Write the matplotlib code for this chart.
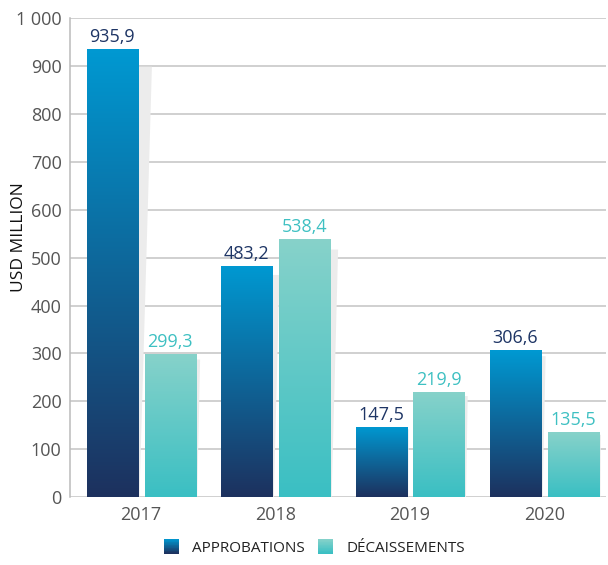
"""Approbations vs décaissements, 2017-2020."""

import matplotlib.pyplot as plt
import numpy as np
from matplotlib.colors import to_rgb
from matplotlib.legend_handler import HandlerBase
from matplotlib.patches import Polygon, Rectangle

years = ["2017", "2018", "2019", "2020"]
approbations = [935.9, 483.2, 147.5, 306.6]
decaissements = [299.3, 538.4, 219.9, 135.5]
series_names = ["APPROBATIONS", "DÉCAISSEMENTS"]

BLUE_TOP, BLUE_BOT = "#0099d2", "#1d315e"
TEAL_TOP, TEAL_BOT = "#87d2ca", "#3abfc3"
BLUE_TXT, TEAL_TXT = "#1e3565", "#3ec0c2"

plt.rcParams["font.family"] = ["Open Sans", "DejaVu Sans"]


def gradient(top, bottom, n=256):
    """column of colours from top to bottom"""
    t = np.linspace(0, 1, n)[:, None]
    return (1 - t) * np.array(to_rgb(top)) + t * np.array(to_rgb(bottom))


class GradientHandler(HandlerBase):
    """legend swatch made of stacked thin strips"""

    def __init__(self, top, bottom):
        super().__init__()
        self.cols = gradient(top, bottom, 20)

    def create_artists(self, legend, orig_handle, xdescent, ydescent,
                       width, height, fontsize, trans):
        side = height * 1.4
        x0 = -xdescent + (width - side) / 2
        y0 = -ydescent - (side - height) / 2
        n = len(self.cols)
        out = []
        for i, c in enumerate(self.cols):
            y = y0 + side * (n - 1 - i) / n
            out.append(Rectangle((x0, y), side, side / n + 0.2, facecolor=c,
                                 edgecolor="none", transform=trans))
        return out


fig = plt.figure(figsize=(6.08, 5.65), dpi=100)
ax = fig.add_axes([0.115, 0.12, 0.882, 0.848])

x = np.arange(len(years))
width = 0.38
off = 0.215

series = [(approbations, -off, BLUE_TOP, BLUE_BOT, BLUE_TXT),
          (decaissements, off, TEAL_TOP, TEAL_BOT, TEAL_TXT)]

handles = []
for vals, dx, top, bot, txt in series:
    bars = ax.bar(x + dx, vals, width, facecolor="none", edgecolor="none",
                  zorder=3)
    handles.append(bars)
    img = gradient(top, bot)[:, None, :]
    for rect, v in zip(bars, vals):
        x0 = rect.get_x()
        x1 = x0 + rect.get_width()
        # soft shadow to the right of the bar
        sw = 0.105 * v / 936
        ax.add_patch(Polygon([(x1, v * 0.96), (x1 + sw, v * 0.96),
                              (x1 + 0.012, 0), (x1, 0)], closed=True,
                             facecolor="#ececec", edgecolor="none", zorder=2))
        im = ax.imshow(img, extent=[x0, x1, 0, v], aspect="auto",
                       origin="upper", zorder=3)
        im.set_clip_path(rect)
        ax.text(rect.get_x() + rect.get_width() / 2, v + 6, f"{v:.1f}".replace(".", ","),
                ha="center", va="bottom", color=txt, fontsize=13)

ax.set_xlim(-0.53, 3.46)
ax.set_ylim(0, 1000)
ax.set_yticks(range(0, 1001, 100))
ax.set_yticklabels([f"{t:,}".replace(",", " ") for t in range(0, 1001, 100)])
ax.set_xticks(x)
ax.set_xticklabels(years)
ax.tick_params(axis="both", colors="#555555", labelsize=13, length=0)
ax.tick_params(axis="y", pad=6)
ax.tick_params(axis="x", pad=6)
ax.yaxis.grid(True, color="#c4c4c4", linewidth=1.1, zorder=1)
ax.set_axisbelow(True)
for s in ["top", "right", "bottom"]:
    ax.spines[s].set_visible(False)
ax.spines["left"].set_color("#bbbbbb")
ax.spines["left"].set_linewidth(1.1)
ax.set_ylabel("USD MILLION", fontsize=12.5, color="#111111")
ax.yaxis.set_label_coords(-0.080, 0.543)

fig.legend(handles, series_names, loc="lower center",
           bbox_to_anchor=(0.515, -0.008), ncol=2, frameon=False,
           fontsize=11, handlelength=1.3, handletextpad=0.7,
           columnspacing=0.7, labelcolor="#222222",
           handler_map={handles[0]: GradientHandler(BLUE_TOP, BLUE_BOT),
                        handles[1]: GradientHandler(TEAL_TOP, TEAL_BOT)})

fig.savefig("out.png", dpi=100)
